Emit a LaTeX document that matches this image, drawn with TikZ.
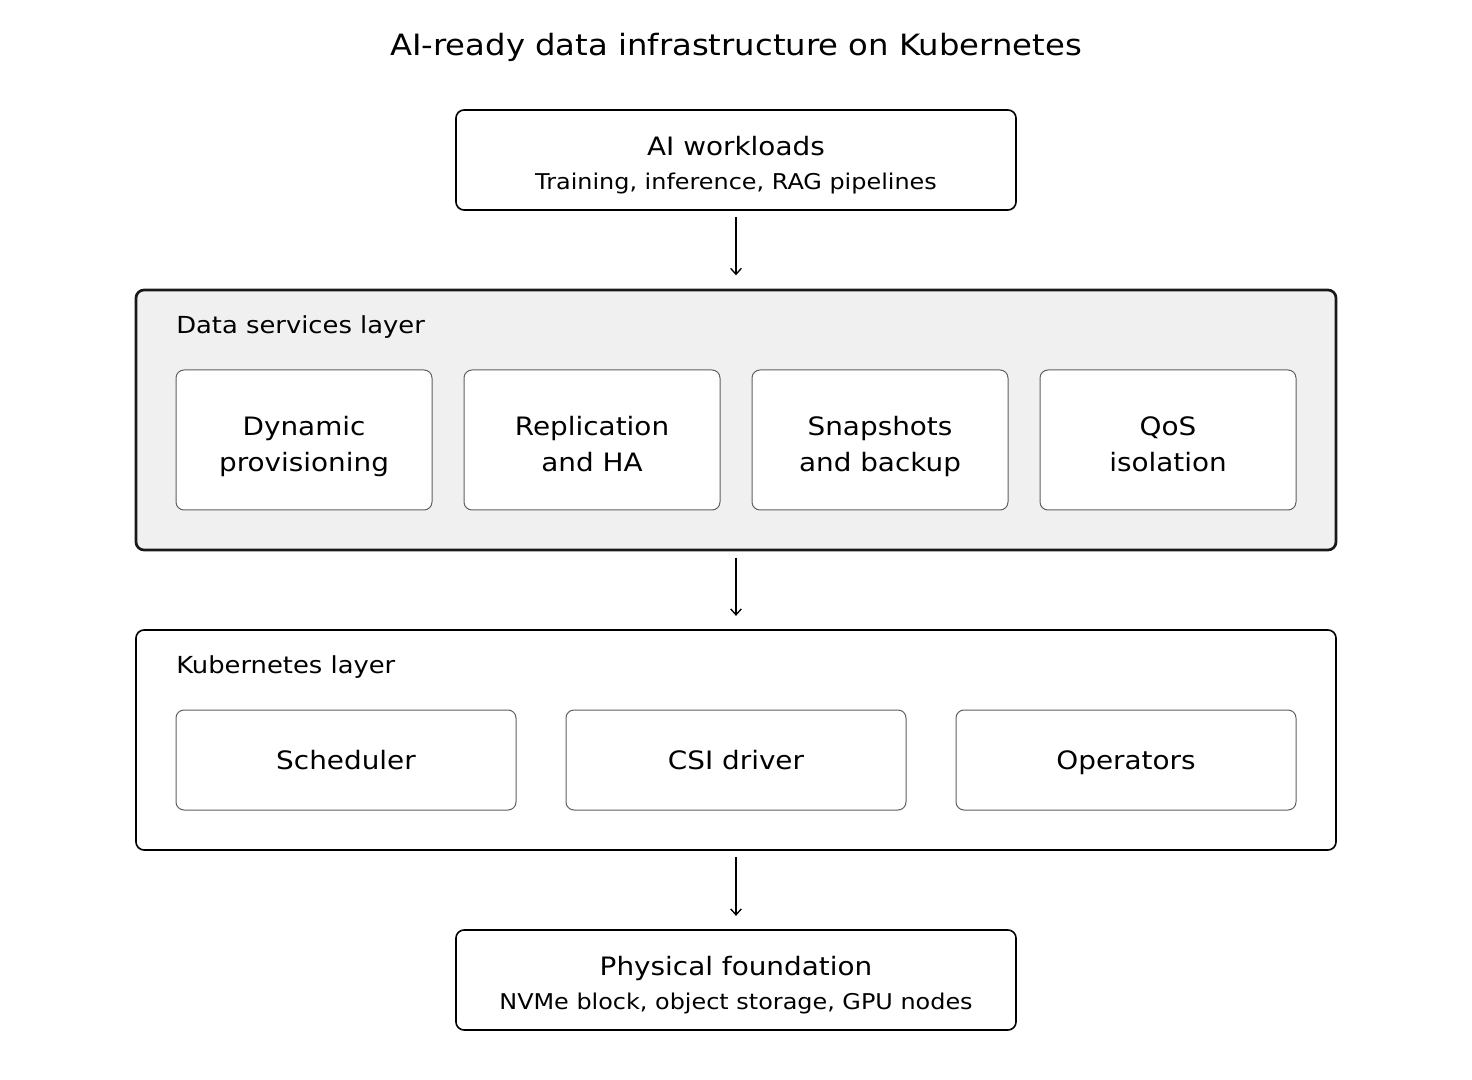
\documentclass[tikz,border=0pt]{standalone}
\usepackage{fontspec}
\setmainfont[FakeStretch=1.1]{DejaVu Sans}
\usetikzlibrary{arrows.meta}
\definecolor{layerfill}{HTML}{F0F0F0}
\definecolor{innerdraw}{HTML}{606060}
\begin{document}
\begin{tikzpicture}[x=0.75pt,y=-0.75pt,
  endbox/.style={draw=black,line width=1.2pt,rounded corners=6pt,fill=white,minimum width=420pt,minimum height=75pt,inner sep=0pt},
  layerbox/.style={draw=black,line width=1.2pt,rounded corners=6pt,fill=white,minimum width=900pt,inner sep=0pt},
  datalayer/.style={layerbox,line width=2pt,fill=layerfill,draw=black!90},
  innerbox/.style={draw=innerdraw,line width=0.75pt,rounded corners=6pt,fill=white,inner sep=0pt},
  big/.style={font=\fontsize{19pt}{24pt}\selectfont,anchor=base,inner sep=0pt},
  small/.style={font=\fontsize{16.3pt}{20pt}\selectfont,anchor=base,inner sep=0pt},
  lbl/.style={font=\fontsize{17.6pt}{20pt}\selectfont,anchor=base west,inner sep=0pt},
  arr/.style={-{Straight Barb[length=4.5pt,width=8pt,line width=1pt]},line width=1.1pt}
]
\useasboundingbox (0,0) rectangle (1472,1080);
\node[font=\fontsize{22pt}{26pt}\selectfont,anchor=base,inner sep=0pt] (title) at (736,55.5) {AI-ready data infrastructure on Kubernetes};

% top box
\node[endbox] (ai) at (736,160) {};
\node[big] (aiT) at (736,155.5) {AI workloads};
\node[small] (aiS) at (736,190) {Training, inference, RAG pipelines};

% data services layer
\node[datalayer,minimum height=195pt] (data) at (736,420) {};
\node[lbl] (dataL) at (176,334) {Data services layer};
\foreach \n/\x/\ta/\tb in {d1/304/Dynamic/provisioning,d2/592/Replication/and HA,d3/880/Snapshots/and backup,d4/1168/QoS/isolation}{
  \node[innerbox,minimum width=192pt,minimum height=105pt] (\n) at (\x,440) {};
  \node[big] (\n a) at (\x,436) {\ta};
  \node[big] (\n b) at (\x,472) {\tb};
}

% kubernetes layer
\node[layerbox,minimum height=165pt] (k8s) at (736,740) {};
\node[lbl] (k8sL) at (176,673.5) {Kubernetes layer};
\foreach \n/\x/\t in {k1/346/Scheduler,k2/736/CSI driver,k3/1126/Operators}{
  \node[innerbox,minimum width=255pt,minimum height=75pt] (\n) at (\x,760) {};
  \node[big] (\n t) at (\x,769) {\t};
}

% bottom box
\node[endbox] (phys) at (736,980) {};
\node[big] (physT) at (736,975) {Physical foundation};
\node[small] (physS) at (736,1009) {NVMe block, object storage, GPU nodes};

% arrows
\draw[arr] ([yshift=-5pt]ai.south) -- ([yshift=10pt]data.north);
\draw[arr] ([yshift=-5pt]data.south) -- ([yshift=10pt]k8s.north);
\draw[arr] ([yshift=-5pt]k8s.south) -- ([yshift=10pt]phys.north);
\end{tikzpicture}
\end{document}
